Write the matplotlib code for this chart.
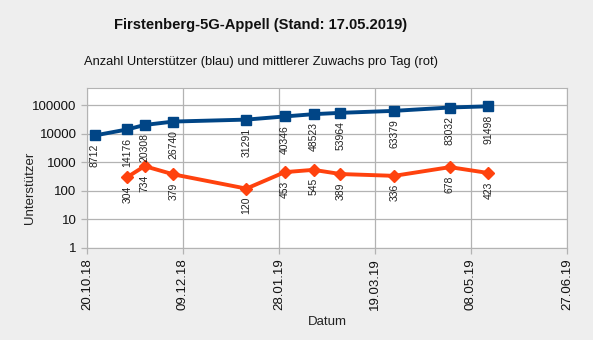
import matplotlib
matplotlib.use("Agg")
import matplotlib.pyplot as plt
from datetime import date, timedelta

plt.rcParams['font.family'] = ['Liberation Sans', 'DejaVu Sans']

dates = ["2018-10-24", "2018-11-10", "2018-11-19", "2018-12-04", "2019-01-11",
         "2019-01-31", "2019-02-15", "2019-03-01", "2019-03-29", "2019-04-27", "2019-05-17"]
supporters = [8712, 14176, 20308, 26740, 31291, 40346, 48523, 53964, 63379, 83032, 91498]
growth_dates = dates[1:]
growth = [304, 734, 379, 120, 453, 545, 389, 336, 678, 423]
xtick_labels = ["20.10.18", "09.12.18", "28.01.19", "19.03.19", "08.05.19", "27.06.19"]
ytick_values = [1, 10, 100, 1000, 10000, 100000]

def to_date(s):
    y, m, d = map(int, s.split("-"))
    return date(y, m, d)

x_sup = [to_date(d) for d in dates]
x_gr = [to_date(d) for d in growth_dates]
xticks = [date(2018, 10, 20) + timedelta(days=50 * i) for i in range(6)]

fig = plt.figure(figsize=(5.93, 3.40), dpi=100, facecolor='#eeeeee')
ax = fig.add_axes([87/593, 1 - 248/340, 480/593, 160/340])
ax.set_facecolor('white')

blue = '#004586'
red = '#ff420e'
ax.plot(x_sup, supporters, color=blue, lw=2.8, marker='s', ms=7, zorder=3)
ax.plot(x_gr, growth, color=red, lw=2.8, marker='D', ms=6.5, zorder=3)

ax.set_yscale('log')
ax.set_ylim(1, 4e5)
ax.set_yticks(ytick_values)
ax.set_yticklabels([str(v) for v in ytick_values], fontsize=9.5)
ax.minorticks_off()
ax.set_xlim(xticks[0], xticks[-1])
ax.set_xticks(xticks)
ax.set_xticklabels(xtick_labels, rotation=90, fontsize=9.5)

ax.grid(True, color='#b3b3b3', lw=0.9)
ax.set_axisbelow(True)
for s in ax.spines.values():
    s.set_color('#b3b3b3')
ax.tick_params(axis='both', colors='#b3b3b3', labelcolor='#111111', length=4, width=0.9)

for xd, v in zip(x_sup, supporters):
    ax.annotate(str(v), (xd, v), xytext=(0, -6), textcoords='offset points',
                rotation=90, ha='center', va='top', fontsize=7.5, color='#222222')
for xd, v in zip(x_gr, growth):
    ax.annotate(str(v), (xd, v), xytext=(0, -6), textcoords='offset points',
                rotation=90, ha='center', va='top', fontsize=7.5, color='#222222')

fig.text(30/593, 1 - 188/340, 'Unterstützer', rotation=90, ha='center', va='center',
         fontsize=9.5, color='#222222')
ax.set_xlabel('Datum', fontsize=9.5, color='#222222', labelpad=4)

fig.text(261/593, 1 - 25/340, 'Firstenberg-5G-Appell (Stand: 17.05.2019)',
         ha='center', va='center', fontsize=10.6, fontweight='bold', color='#111111')
fig.text(261/593, 1 - 62/340, 'Anzahl Unterstützer (blau) und mittlerer Zuwachs pro Tag (rot)',
         ha='center', va='center', fontsize=9.3, color='#111111')

fig.savefig('out.png', dpi=100, facecolor=fig.get_facecolor())
